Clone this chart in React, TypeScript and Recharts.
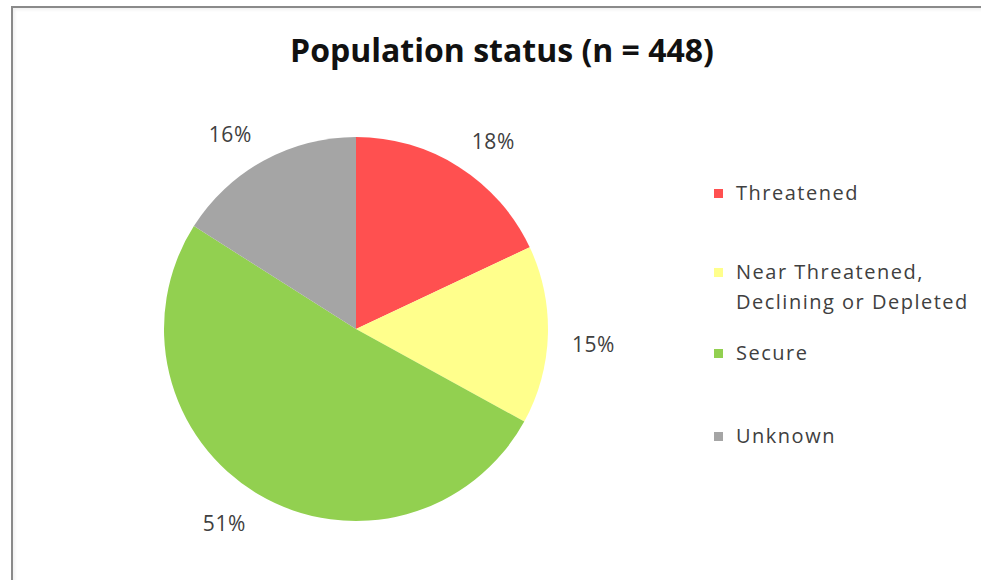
import React from "react";
import { Cell, Legend, Pie, PieChart } from "recharts";

const categories = ["Threatened", "Near Threatened, Declining or Depleted", "Secure", "Unknown"];
const legendLines = [["Threatened"], ["Near Threatened,", "Declining or Depleted"], ["Secure"], ["Unknown"]];
const shares = [18, 15, 51, 16];
const colors = ["#FF5050", "#FFFF8C", "#92D050", "#A5A5A5"];

const data = categories.map((name, i) => ({ name, value: shares[i] }));

const RAD = Math.PI / 180;
const FONT = "'Open Sans', sans-serif";
const TEXT = "#404040";

// gap above each legend row, Excel spreads them unevenly
const legendGaps = [0, 49, 21, 53];

function renderLabel(props: any) {
  const { cx, cy, midAngle, outerRadius, value } = props;
  const r = outerRadius + 24;
  const c = Math.cos(midAngle * RAD);
  const s = Math.sin(midAngle * RAD);
  const x = cx + r * c;
  const y = cy - r * s + (s >= 0 ? -6 : 8);
  return (
    <text
      x={x}
      y={y}
      textAnchor={c >= 0 ? "start" : "end"}
      dominantBaseline="central"
      fill={TEXT}
      fontFamily={FONT}
      fontSize={21}
      letterSpacing={0.6}
    >
      {value}%
    </text>
  );
}

function renderLegend() {
  return (
    <div style={{ fontFamily: FONT, fontSize: 20, letterSpacing: 1.5, color: TEXT }}>
      {categories.map((name, i) => (
        <div key={name} style={{ display: "flex", marginTop: legendGaps[i], lineHeight: "30px" }}>
          <span
            style={{
              width: 9,
              height: 9,
              background: colors[i],
              marginTop: 11,
              marginRight: 13,
              flex: "none",
            }}
          />
          <div>
            {legendLines[i].map((line) => (
              <div key={line}>{line}</div>
            ))}
          </div>
        </div>
      ))}
    </div>
  );
}

export default function App() {
  return (
    <div style={{ position: "absolute", left: 0, top: 0, width: 981, height: 580, overflow: "hidden", background: "#fff" }}>
      <div
        style={{
          position: "absolute",
          left: 11,
          top: 6,
          width: 1000,
          height: 600,
          border: "2px solid #8a8a8a",
          boxShadow: "inset 2px 2px 3px rgba(0,0,0,0.06)",
        }}
      />
      <div
        style={{
          position: "absolute",
          left: 0,
          width: 1004,
          top: 28,
          textAlign: "center",
          fontFamily: FONT,
          fontWeight: 700,
          fontSize: 32,
          color: "#111",
        }}
      >
        Population status (n = 448)
      </div>
      <div style={{ position: "absolute", left: 0, top: 0 }}>
        <PieChart width={981} height={580} margin={{ top: 0, right: 0, bottom: 0, left: 0 }}>
          <Pie
            data={data}
            dataKey="value"
            nameKey="name"
            cx={356}
            cy={329}
            outerRadius={192}
            startAngle={90}
            endAngle={-270}
            stroke="none"
            label={renderLabel}
            labelLine={false}
            isAnimationActive={false}
          >
            {data.map((d, i) => (
              <Cell key={d.name} fill={colors[i]} />
            ))}
          </Pie>
          <Legend
            layout="vertical"
            verticalAlign="top"
            align="right"
            content={renderLegend}
            wrapperStyle={{ left: 714, right: "auto", top: 178, width: 265 }}
          />
        </PieChart>
      </div>
    </div>
  );
}
